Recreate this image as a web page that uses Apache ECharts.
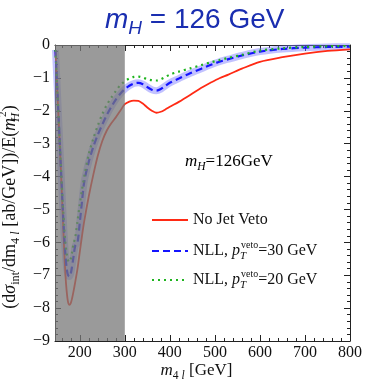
<!DOCTYPE html>
<html>
<head>
<meta charset="utf-8">
<script src="https://cdn.jsdelivr.net/npm/echarts@6/dist/echarts.min.js"></script>
<style>html,body{margin:0;padding:0;background:#fff;}#c{width:365px;height:380px;}</style>
</head>
<body>
<div id="c"></div>
<script>
// ---- data ----
const mass = [146,150,153,156,159,162,165,168,171,174,177,180,183,186,190,195,200,205,210,220,230,240,250,260,270,280,290,300,310,320,330,340,350,360,370,380,390,400,420,445,470,490,510,530,560,600,650,700,750,800];
const noJetVeto = [-0.15,-1.35,-2.25,-3.15,-4.1,-5.1,-6.1,-6.95,-7.5,-7.82,-7.9,-7.85,-7.7,-7.5,-7.2,-6.8,-6.3,-5.8,-5.35,-4.6,-3.95,-3.37,-2.92,-2.6,-2.38,-2.2,-2.0,-1.8,-1.72,-1.69,-1.7,-1.78,-1.9,-2.0,-2.06,-2.03,-1.96,-1.88,-1.73,-1.52,-1.3,-1.15,-1.01,-0.9,-0.72,-0.51,-0.37,-0.26,-0.18,-0.13];
const nll30 = [-0.15,-1.3,-2.2,-3.1,-4.0,-4.9,-5.7,-6.35,-6.8,-7.0,-7.04,-6.95,-6.72,-6.45,-6.1,-6.0,-5.4,-4.75,-4.15,-3.55,-3.1,-2.73,-2.42,-2.13,-1.88,-1.66,-1.48,-1.34,-1.24,-1.17,-1.15,-1.19,-1.28,-1.36,-1.39,-1.34,-1.24,-1.15,-1.02,-0.86,-0.72,-0.61,-0.51,-0.43,-0.32,-0.2,-0.12,-0.08,-0.06,-0.05];
const nll20 = [-0.15,-1.3,-2.2,-3.1,-3.95,-4.75,-5.45,-6.0,-6.35,-6.55,-6.6,-6.5,-6.3,-6.05,-5.85,-5.35,-4.85,-4.4,-4.0,-3.32,-2.85,-2.45,-2.1,-1.82,-1.6,-1.4,-1.22,-1.1,-1.02,-0.97,-0.96,-0.99,-1.04,-1.07,-1.08,-1.04,-0.97,-0.9,-0.81,-0.71,-0.61,-0.53,-0.46,-0.39,-0.3,-0.17,-0.1,-0.06,-0.04,-0.03];
const xMajorTicks = [200,300,400,500,600,700,800];
const xMinorTicks = [160,180,220,240,260,280,320,340,360,380,420,440,460,480,520,540,560,580,620,640,660,680,720,740,760,780];
const shadedRange = [145, 300];
const seriesNames = ['No Jet Veto', 'NLL30', 'NLL20'];

const X_MIN = 145, X_MAX = 800, Y_MIN = -9, Y_MAX = 0;
const pairs = arr => mass.map((m, i) => [m, arr[i]]);
const SERIF = 'Liberation Serif';
const frameColor = '#222';

const richMath = (fs) => ({
  n:   {fontFamily: SERIF, fontSize: fs, fontWeight: 'normal', lineHeight: fs + 6, verticalAlign: 'middle', color: '#111'},
  it:  {fontFamily: SERIF, fontSize: fs, fontWeight: 'normal', fontStyle: 'italic', lineHeight: fs + 6, verticalAlign: 'middle', color: '#111'},
  sub: {fontFamily: SERIF, fontSize: fs * 0.68, fontWeight: 'normal', lineHeight: fs * 0.68, verticalAlign: 'bottom', color: '#111'},
  subi:{fontFamily: SERIF, fontSize: fs * 0.68, fontWeight: 'normal', fontStyle: 'italic', lineHeight: fs * 0.68, verticalAlign: 'bottom', color: '#111'},
  subs:{fontFamily: SERIF, fontSize: fs * 0.68, fontWeight: 'normal', fontStyle: 'italic', lineHeight: fs * 0.68, verticalAlign: 'bottom', color: '#111', width: 1},
  sup: {fontFamily: SERIF, fontSize: fs * 0.62, fontWeight: 'normal', lineHeight: fs * 0.62, verticalAlign: 'top', color: '#111'}
});

const xAxisBase = (pos, major) => ({
  type: 'value', min: X_MIN, max: X_MAX, position: pos,
  axisLine: {show: major, onZero: false, lineStyle: {color: frameColor, width: 1}},
  axisTick: {show: true, inside: true, length: major ? 6 : 3, customValues: major ? xMajorTicks : xMinorTicks, lineStyle: {color: frameColor}},
  axisLabel: {show: false},
  splitLine: {show: false}
});

const xAxes = [
  Object.assign(xAxisBase('bottom', true), {
    axisLabel: {show: true, customValues: xMajorTicks, margin: 4, fontFamily: SERIF, fontSize: 16, color: '#111'},
    name: '{it|m}{sub|4 }{subi|l}{n| [GeV]}',
    nameLocation: 'middle', nameGap: 18, nameMoveOverlap: false,
    nameTextStyle: {rich: richMath(17), padding: [0, 12, 0, 0]}
  }),
  xAxisBase('bottom', false),
  xAxisBase('top', true),
  xAxisBase('top', false)
];

const yAxisBase = (pos) => ({
  type: 'value', min: Y_MIN, max: Y_MAX, interval: 1, position: pos,
  axisLine: {show: true, onZero: false, lineStyle: {color: frameColor, width: 1}},
  axisTick: {show: true, inside: true, length: 6, lineStyle: {color: frameColor}},
  minorTick: {show: true, splitNumber: 5, length: 3, lineStyle: {color: frameColor}},
  axisLabel: {show: false},
  splitLine: {show: false}, minorSplitLine: {show: false}
});

const yAxes = [
  Object.assign(yAxisBase('left'), {
    axisLabel: {show: true, margin: 5, fontFamily: SERIF, fontSize: 16, color: '#111',
      formatter: v => v === 0 ? '0' : '\u2212' + Math.abs(v)},
    name: '{n|(d}{it|σ}{sub|int}{n|/dm}{sub|4 }{subi|l}{n| [ab/GeV])/E(}{it|m}{subs|H}{sup|2}{n|)}',
    nameLocation: 'middle', nameGap: 33, nameRotate: 90, nameMoveOverlap: false,
    nameTextStyle: {rich: richMath(18), padding: [0, 28, 0, 0]}
  }),
  yAxisBase('right')
];

const legendText = {
  'No Jet Veto': '{n|No Jet Veto}',
  'NLL30': '{n|NLL, }{it|p}{subs|T}{sup|veto}{n|=30 GeV}',
  'NLL20': '{n|NLL, }{it|p}{subs|T}{sup|veto}{n|=20 GeV}'
};
const legendTops = [212, 240, 269];

const option = {
  animation: false,
  backgroundColor: '#fff',
  title: {
    text: '{mi|m}{sb|H}{n| = 126 GeV}',
    left: 100, top: -3,
    textStyle: {
      fontWeight: 'normal',
      rich: {
        mi: {fontFamily: 'Liberation Sans', fontSize: 28, fontWeight: 'normal', fontStyle: 'italic', color: '#1a2eb0', lineHeight: 36, verticalAlign: 'middle'},
        sb: {fontFamily: 'Liberation Sans', fontSize: 19, fontWeight: 'normal', fontStyle: 'italic', color: '#1a2eb0', lineHeight: 19, verticalAlign: 'bottom'},
        n:  {fontFamily: 'Liberation Sans', fontSize: 28, fontWeight: 'normal', color: '#1a2eb0', lineHeight: 36, verticalAlign: 'middle'}
      }
    }
  },
  grid: {left: 55, right: 15, top: 45, bottom: 39, containLabel: false, outerBoundsMode: 'none'},
  xAxis: xAxes,
  yAxis: yAxes,
  legend: seriesNames.map((nm, i) => ({
    data: [nm],
    orient: 'vertical', left: 151, top: legendTops[i],
    itemWidth: 36, itemHeight: 12, padding: 0,
    formatter: name => legendText[name],
    itemStyle: {opacity: 0},
    textStyle: {rich: richMath(16)},
    selectedMode: false
  })),
  graphic: [{
    type: 'text', left: 185, top: 153,
    style: {text: '{it|m}{subi|H}{n|=126GeV}', rich: richMath(17)}
  }],
  series: [
    {
      name: 'band', type: 'line', data: pairs(nll30), smooth: 0.3, symbol: 'none', z: 2,
      lineStyle: {color: 'rgba(120,120,255,0.45)', width: 7}, itemStyle: {color: 'rgba(120,120,255,0.45)'}, silent: true
    },
    {
      name: 'No Jet Veto', type: 'line', data: pairs(noJetVeto), smooth: 0.3, symbol: 'none', z: 3,
      lineStyle: {color: '#ff2a14', width: 1.8}, itemStyle: {color: '#ff2a14'}
    },
    {
      name: 'NLL30', type: 'line', data: pairs(nll30), smooth: 0.3, symbol: 'none', z: 4,
      lineStyle: {color: '#1414ff', width: 2.2, type: [7, 4]}, itemStyle: {color: '#1414ff'}
    },
    {
      name: 'NLL20', type: 'line', data: pairs(nll20), smooth: 0.3, symbol: 'none', z: 5,
      lineStyle: {color: '#1eb41e', width: 2.2, type: [2, 4]}, itemStyle: {color: '#1eb41e'}
    },
    {
      name: 'shade', type: 'custom', z: 10, silent: true, clip: true,
      data: [shadedRange],
      renderItem: (params, api) => {
        const p0 = api.coord([api.value(0), Y_MAX]);
        const p1 = api.coord([api.value(1), Y_MIN]);
        return {type: 'rect', shape: {x: p0[0], y: p0[1], width: p1[0] - p0[0], height: p1[1] - p0[1]},
                style: {fill: 'rgba(120,120,120,0.75)'}};
      },
      encode: {x: [0, 1]}
    }
  ]
};

const chart = echarts.init(document.getElementById('c'), null, {renderer: 'canvas'});
chart.setOption(option);
</script>
</body>
</html>
